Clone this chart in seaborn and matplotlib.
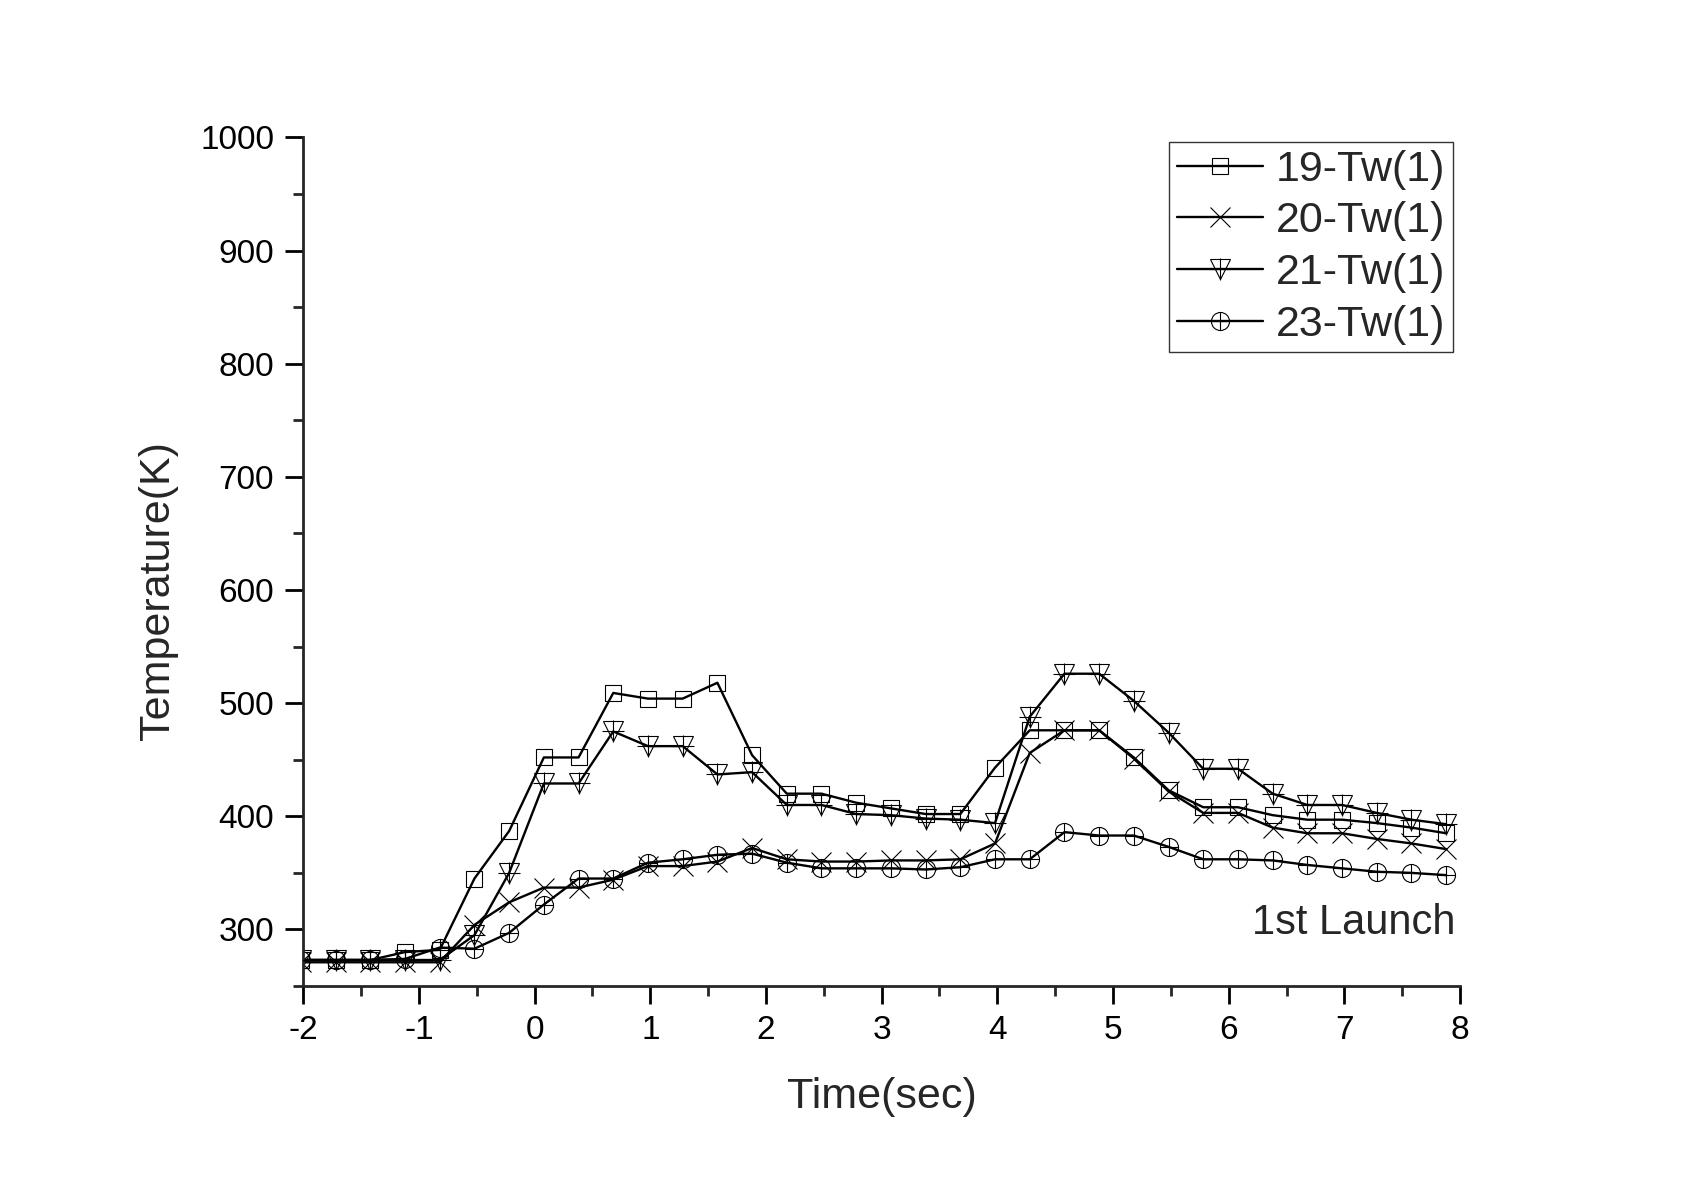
import matplotlib
matplotlib.use("Agg")
import matplotlib.pyplot as plt
from matplotlib.lines import Line2D
from matplotlib.legend_handler import HandlerTuple
from matplotlib.ticker import MultipleLocator
import seaborn as sns

# time of each marker (sec)
time_s = [-2.02, -1.72, -1.42, -1.12, -0.82, -0.52, -0.22, 0.08, 0.38, 0.68,
          0.98, 1.28, 1.58, 1.88, 2.18, 2.48, 2.78, 3.08, 3.38, 3.68,
          3.98, 4.28, 4.58, 4.88, 5.18, 5.48, 5.78, 6.08, 6.38, 6.68,
          6.98, 7.28, 7.58, 7.88]

# wall temperature (K)
tw19 = [273, 273, 273, 280, 282, 345, 387, 452, 452, 509,
        504, 504, 518, 454, 420, 420, 412, 407, 402, 402,
        443, 476, 476, 476, 452, 423, 408, 408, 401, 397,
        397, 394, 390, 385]
tw20 = [271, 271, 271, 271, 271, 304, 324, 337, 337, 344,
        356, 356, 360, 372, 362, 360, 360, 361, 361, 362,
        376, 456, 476, 476, 451, 422, 403, 403, 390, 385,
        385, 380, 376, 371]
tw21 = [273, 273, 273, 273, 273, 295, 350, 429, 429, 475,
        462, 462, 437, 439, 410, 410, 402, 401, 398, 397,
        394, 488, 526, 526, 502, 474, 442, 442, 420, 410,
        410, 403, 397, 393]
tw23 = [273, 273, 273, 274, 284, 283, 297, 322, 345, 345,
        359, 362, 366, 367, 359, 354, 354, 354, 353, 355,
        362, 362, 386, 383, 383, 373, 362, 362, 361, 357,
        354, 351, 350, 348]

labels = ["19-Tw(1)", "20-Tw(1)", "21-Tw(1)", "23-Tw(1)"]

sns.set_style("ticks")
plt.rcParams["font.family"] = ["Liberation Sans", "DejaVu Sans"]
plt.rcParams["axes.unicode_minus"] = False

fig = plt.figure(figsize=(16.95, 11.83), dpi=100)
ax = fig.add_axes([0.1789, 0.1665, 0.6825, 0.7174])

lw = 1.7
mew = 0.8
common = dict(ax=ax, color="black", lw=lw, mec="black", mfc="none", mew=mew)

sns.lineplot(x=time_s, y=tw19, marker="s", ms=12, **common)
sns.lineplot(x=time_s, y=tw20, marker="x", ms=14, **common)
sns.lineplot(x=time_s, y=tw21, marker="v", ms=15, **common)
sns.lineplot(x=time_s, y=tw23, marker="o", ms=13, **common)
# crosses inside the triangle and circle markers
sns.scatterplot(x=time_s, y=tw21, marker="+", s=240, color="black",
                linewidth=mew, ax=ax, zorder=3)
sns.scatterplot(x=time_s, y=tw23, marker="+", s=169, color="black",
                linewidth=mew, ax=ax, zorder=3)

ax.set_xlim(-2, 8)
ax.set_ylim(250, 1000)
ax.xaxis.set_major_locator(MultipleLocator(1))
ax.xaxis.set_minor_locator(MultipleLocator(0.5))
ax.yaxis.set_minor_locator(MultipleLocator(50))
ax.set_yticks(range(300, 1001, 100))

sns.despine(ax=ax)
for side in ["left", "bottom"]:
    ax.spines[side].set_linewidth(2)
ax.tick_params(which="major", direction="out", length=13, width=2,
               labelsize=24, pad=8, colors="black")
ax.tick_params(which="minor", direction="out", length=7, width=2)

ax.set_xlabel("Time(sec)", fontsize=31)
ax.set_ylabel("Temperature(K)", fontsize=31)
ax.xaxis.set_label_coords(0.5, -0.107)
ax.yaxis.set_label_coords(-0.108, 0.4655)

ax.text(0.996, 0.061, "1st Launch", transform=ax.transAxes,
        ha="right", va="baseline", fontsize=30)

h19 = Line2D([], [], color="black", lw=lw, marker="s", ms=12, mfc="none", mew=mew)
h20 = Line2D([], [], color="black", lw=lw, marker="x", ms=14, mew=mew)
h21 = (Line2D([], [], color="black", lw=lw, marker="v", ms=15, mfc="none", mew=mew),
       Line2D([], [], ls="none", color="black", marker="+", ms=15.5, mew=mew))
h23 = (Line2D([], [], color="black", lw=lw, marker="o", ms=13, mfc="none", mew=mew),
       Line2D([], [], ls="none", color="black", marker="+", ms=13, mew=mew))
leg = ax.legend([h19, h20, h21, h23], labels,
                handler_map={tuple: HandlerTuple(ndivide=1)},
                loc="upper right", bbox_to_anchor=(0.9937, 0.9945),
                borderaxespad=0, fontsize=31, frameon=True, fancybox=False,
                handlelength=2.0, handletextpad=0.3, labelspacing=0.27,
                borderpad=0.18)
leg.get_frame().set_edgecolor("black")
leg.get_frame().set_linewidth(1)

fig.savefig("out.png", dpi=100, facecolor="white")
